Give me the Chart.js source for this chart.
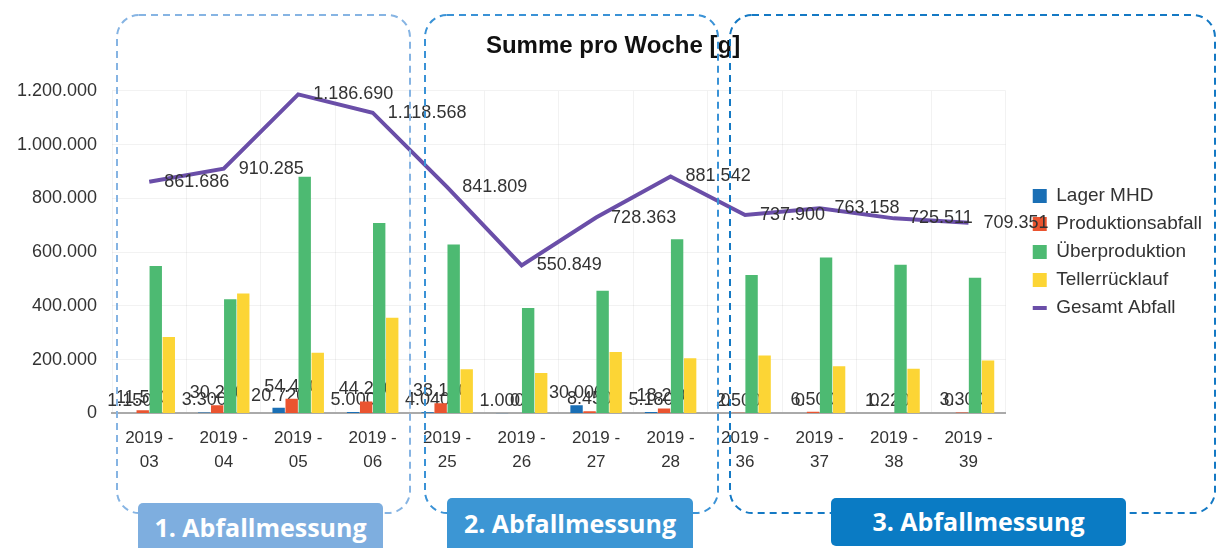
<!DOCTYPE html>
<html><head><meta charset="utf-8">
<script src="https://cdn.jsdelivr.net/npm/chart.js@4/dist/chart.umd.min.js"></script>
<style>
html,body{margin:0;padding:0;background:#fff;}
#wrap{position:relative;width:1218px;height:548px;overflow:hidden;}
canvas{position:absolute;left:0;top:0;}
.tag{position:absolute;color:#fff;font-family:"Open Sans","Liberation Sans",sans-serif;font-weight:700;font-size:25px;text-align:center;border-radius:5px;}
</style></head>
<body><div id="wrap"><canvas id="c" width="1218" height="548"></canvas>
<div class="tag" style="left:138px;top:503px;width:245px;height:60px;line-height:48px;background:#7eaedf;">1. Abfallmessung</div>
<div class="tag" style="left:447px;top:498px;width:246px;height:60px;line-height:50px;background:#3c96d4;">2. Abfallmessung</div>
<div class="tag" style="left:831px;top:498px;width:295px;height:48px;line-height:46px;background:#0a7bc4;">3. Abfallmessung</div>
</div>
<script>
const weeks = ['2019 - 03','2019 - 04','2019 - 05','2019 - 06','2019 - 25','2019 - 26','2019 - 27','2019 - 28','2019 - 36','2019 - 37','2019 - 38','2019 - 39'];
const lagerMHD = [1150, 3300, 20720, 5000, 4040, 1000, 30000, 5180, 0, 0, 0, 0];
const produktionsabfall = [11500, 30200, 54400, 44200, 38100, 0, 8450, 18200, 2500, 6500, 1220, 3300];
const ueberproduktion = [548000, 425000, 880000, 708000, 628000, 392000, 456000, 648000, 515000, 580000, 553000, 505000];
const tellerruecklauf = [284000, 446000, 226000, 356000, 164000, 150000, 228000, 205000, 215000, 175000, 166000, 197000];
const gesamtAbfall = [861686, 910285, 1186690, 1118568, 841809, 550849, 728363, 881542, 737900, 763158, 725511, 709351];
const yTicks = [0, 200000, 400000, 600000, 800000, 1000000, 1200000];

const fmt = v => String(Math.round(v)).replace(/\B(?=(\d{3})+(?!\d))/g, '.');
Chart.defaults.font.family = '"Liberation Sans", Arial, sans-serif';
Chart.defaults.color = '#333';

const LABEL_FONT = '18px "Liberation Sans", Arial, sans-serif';
const valueLabels = {
  id: 'valueLabels',
  beforeDatasetsDraw(chart) {
    // small-bar labels are drawn first so taller bars cover them
    const ctx = chart.ctx;
    ctx.save();
    ctx.font = LABEL_FONT;
    ctx.fillStyle = '#333';
    ctx.textAlign = 'center'; ctx.textBaseline = 'bottom';
    [0, 1].forEach(idx => {
      const ds = chart.data.datasets[idx];
      chart.getDatasetMeta(idx).data.forEach((bar, i) => ctx.fillText(fmt(ds.data[i]), bar.x, bar.y - 3));
    });
    ctx.restore();
  },
  afterDatasetsDraw(chart) {
    const ctx = chart.ctx;
    ctx.save();
    ctx.font = LABEL_FONT;
    ctx.fillStyle = '#333';
    ctx.textAlign = 'left'; ctx.textBaseline = 'middle';
    const idx = 4;
    const ds = chart.data.datasets[idx];
    chart.getDatasetMeta(idx).data.forEach((pt, i) => ctx.fillText(fmt(ds.data[i]), pt.x + 15, pt.y));
    ctx.restore();
  }
};

const boxes = {
  id: 'boxes',
  afterDraw(chart) {
    const ctx = chart.ctx;
    const list = [
      [117, 15, 293, 498, '#86b4e3'],
      [425, 15, 293, 498, '#3a92d6'],
      [730, 15, 485, 498, '#1479c4']
    ];
    ctx.save();
    ctx.lineWidth = 2;
    ctx.setLineDash([7, 5]);
    list.forEach(([x, y, w, h, c]) => {
      ctx.strokeStyle = c;
      ctx.beginPath();
      ctx.roundRect(x, y, w, h, 22);
      ctx.stroke();
    });
    ctx.restore();
  }
};

new Chart(document.getElementById('c'), {
  type: 'bar',
  data: {
    labels: weeks.map(w => { const p = w.split(' - '); return [p[0] + ' -', p[1]]; }),
    datasets: [
      {label: 'Lager MHD', data: lagerMHD, backgroundColor: '#1a6fb5', order: 1, pointStyle: 'rect'},
      {label: 'Produktionsabfall', data: produktionsabfall, backgroundColor: '#ea5430', order: 1, pointStyle: 'rect'},
      {label: 'Überproduktion', data: ueberproduktion, backgroundColor: '#4dba72', order: 1, pointStyle: 'rect'},
      {label: 'Tellerrücklauf', data: tellerruecklauf, backgroundColor: '#fcd535', order: 1, pointStyle: 'rect'},
      {type: 'line', label: 'Gesamt Abfall', data: gesamtAbfall, borderColor: '#6a4ea8', backgroundColor: '#6a4ea8',
       borderWidth: 4, pointRadius: 0, pointHoverRadius: 0, tension: 0, order: 0, pointStyle: 'line'}
    ]
  },
  options: {
    responsive: false,
    animation: false,
    categoryPercentage: 0.7,
    barPercentage: 0.95,
    layout: {padding: {left: 14, right: 6, top: 0, bottom: 61}},
    plugins: {
      tooltip: {enabled: false},
      title: {display: true, text: 'Summe pro Woche [g]', color: '#111',
              font: {size: 24, weight: 'bold'}, padding: {top: 32, bottom: 30}},
      legend: {
        position: 'right', fullSize: false,
        labels: {usePointStyle: true, pointStyleWidth: 14, boxHeight: 14, boxWidth: 14, padding: 9,
                 font: {size: 19}, color: '#333', sort: (a, b) => a.datasetIndex - b.datasetIndex}
      }
    },
    scales: {
      x: {
        grid: {color: 'rgba(0,0,0,0.05)', drawTicks: false},
        border: {color: '#aaa', width: 2},
        ticks: {font: {size: 17, lineHeight: 1.4}, color: '#333', padding: 13, maxRotation: 0, autoSkip: false}
      },
      y: {
        min: 0, max: 1200000,
        afterBuildTicks: s => { s.ticks = yTicks.map(v => ({value: v})); },
        afterFit: s => { s.width = 98; },
        ticks: {callback: v => fmt(v), font: {size: 18}, color: '#333', padding: 15},
        grid: {color: 'rgba(0,0,0,0.05)', drawTicks: false},
        border: {display: false}
      },
      y2: {
        position: 'right', display: true,
        grid: {display: false}, ticks: {display: false}, border: {display: false},
        afterFit: s => { s.width = 18; }
      }
    }
  },
  plugins: [valueLabels, boxes]
});
</script>
</body></html>
